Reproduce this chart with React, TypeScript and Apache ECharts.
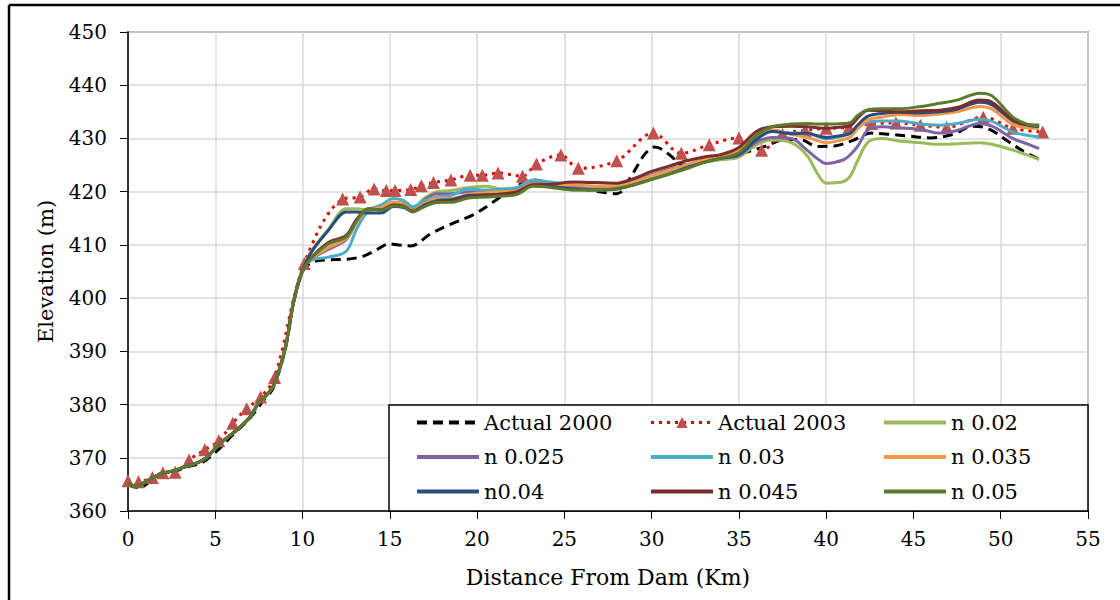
import React, { useEffect, useRef } from "react";
import * as echarts from "echarts";

// Distances (km) shared by the simulated n series
const DIST_N = [0, 0.5, 1, 1.5, 2, 2.5, 3, 3.5, 4, 4.5, 5, 5.5, 6, 6.5, 7, 7.5, 8, 8.4, 9, 9.5, 10,
  10.5, 11.5, 12.5, 13.1, 13.8,
  14.5, 15.2, 15.8, 16.3, 17, 17.7, 18.5, 19.5, 20.5, 21.5,
  22.3, 23.2, 24.2, 25.5, 26.8, 28, 29, 30, 31, 32, 33, 34, 35, 36, 36.9,
  38, 38.9, 39.5, 40, 41, 41.4, 41.8, 42.4, 43.2, 44.2, 45.4, 46.5, 47.5, 48.8, 49.5, 50.7, 51.5, 52.2];

// Common reach 0–10 km (all n series coincide)
const HEAD_N = [365.1, 364.7, 365.5, 366.4, 367.1, 367.5, 368, 368.6, 369.1, 370, 371.8, 373.3, 374.6, 376, 377.7, 380.4, 382, 384, 390.5, 399.5, 405.2];

const N002 = [408.8, 413, 416.8, 416.8, 416.5,
  417, 418, 417.8, 417, 418.8, 420, 420.2, 420.8, 421, 420.5,
  420.5, 421.8, 421, 420.3, 420.3, 420.5, 421.5, 422.5, 423.5, 424.5, 425.5, 426, 426.5, 428.8, 429.7,
  429.2, 426.8, 423.4, 421.6, 421.9, 423, 425.8, 429.3, 430, 429.5, 429.2, 428.9, 429, 429.2, 428.9, 427.8, 426.9, 426];
const N0025 = [407.3, 409.2, 411, 414.3, 416.8,
  416.8, 417.8, 417.5, 416.6, 418.5, 419.6, 419.6, 420, 420, 420.3,
  420.5, 421.8, 421.3, 420.8, 420.8, 421, 422, 423.2, 424.2, 425, 425.8, 426.3, 426.8, 429.3, 430.2,
  430, 427.8, 426.2, 425.3, 426, 427, 428.5, 431.6, 432.2, 432, 431.7, 431, 431.5, 432.8, 432.3, 430, 429, 428.1];
const N003 = [407.1, 407.7, 408.8, 413, 416.5,
  417.5, 418.7, 418.3, 417.2, 418.3, 419, 419.3, 420.5, 420.3, 420.5,
  420.8, 422.2, 421.8, 421.3, 421, 421, 421.8, 423, 424, 425, 426, 426.6, 427.3, 430, 431.5,
  431, 431, 430.4, 429.9, 430.5, 431, 432, 433.1, 433.3, 433.3, 432.7, 432.5, 432.8, 433.6, 433.2, 431.2, 430.6, 430.3];
const N0035 = [407.4, 409.5, 411.2, 414.3, 416.7,
  417, 418, 417.6, 416.5, 417.8, 418.7, 418.7, 419.5, 419.8, 420,
  420.2, 421.5, 421.3, 421.3, 421, 421, 421.8, 423, 424, 425, 426, 426.8, 427.8, 430.5, 431.6,
  430.8, 430.2, 429.6, 429.2, 429.8, 430.3, 431.8, 433.5, 434, 434.5, 434.3, 434.6, 435, 436, 435.5, 432.6, 432, 431.9];
const N004 = [408.6, 412.8, 416.2, 416.2, 416,
  416, 417.2, 417, 416.3, 417.5, 418.3, 418.5, 419.3, 419.4, 419.5,
  419.8, 421.2, 421, 420.5, 420.3, 420.5, 421.3, 422.3, 423.3, 424.5, 425.5, 426.3, 427, 429.8, 431.3,
  430.9, 431, 430.5, 430.2, 430.6, 431, 432.5, 434.2, 434.7, 434.9, 434.8, 435, 435.5, 436.8, 436.3, 433.3, 432.5, 432.2];
const N0045 = [407.6, 410.5, 411.8, 414.8, 416.8,
  416.6, 417.5, 417.3, 416.3, 417.3, 418, 418.2, 419, 419.3, 419.6,
  420, 421.3, 421.4, 421.8, 421.7, 421.6, 422.5, 423.8, 424.8, 425.8, 426.5, 427, 428.3, 431.3, 432.2,
  432.3, 432.2, 432, 431.9, 432.2, 432.4, 433.8, 435.3, 435.2, 435, 435.2, 435.3, 435.8, 437.2, 436.8, 433.5, 432.6, 432.5];
const N005 = [407.5, 410.2, 411.5, 414.5, 416.8,
  416.5, 417.3, 417.2, 416.2, 417.2, 418, 418, 418.8, 419, 419.2,
  419.5, 421, 420.8, 420.3, 420.3, 420.6, 421.3, 422.3, 423.3, 424.3, 425.5, 426.3, 427.3, 430.6, 432.2,
  432.7, 432.8, 432.7, 432.7, 432.8, 433, 434.3, 435.4, 435.6, 435.6, 436, 436.6, 437.2, 438.5, 438, 434, 432.7, 432.4];

// Actual bed profiles
const DIST_2000 = [0, 0.6, 1.5, 2.5, 3.5, 4.2, 5, 6, 7, 7.8, 8.3, 9, 9.5, 10, 10.6, 11.5, 12.5, 13.5, 14.3, 15, 15.5, 16.2, 17.3, 18.5, 19.8, 20.9, 22, 23.3, 24.5, 26, 27, 28, 28.9, 29.6, 30.2, 31, 31.8, 33, 34.5, 35.5, 36.5, 37.5, 38.5, 39.5, 40.5, 41.5, 42.6, 43.5, 44.6, 46, 47.3, 48.4, 49.3, 50.5, 51.3, 52.2];
const ELEV_2000 = [364.9, 364.4, 366, 367.2, 368.4, 369, 371, 374.3, 377.5, 381, 383, 390.3, 399.3, 405, 406.8, 407.2, 407.3, 407.9, 409.2, 410.2, 410, 409.8, 412, 413.9, 415.7, 418, 420.5, 422.2, 421.2, 420.5, 420, 419.6, 423.3, 427, 428.4, 427, 425, 425.8, 426.5, 427.5, 428.5, 429.7, 429.8, 428.5, 428.6, 429.6, 431, 430.8, 430.5, 430.1, 430.8, 432.3, 431.8, 429.3, 427.6, 426.1];
const DIST_2003 = [0, 0.6, 1.4, 2, 2.7, 3.5, 4.4, 5.2, 6, 6.8, 7.6, 8.4, 10.1, 12.3, 13.3, 14.1, 14.8, 15.3, 16.2, 16.8, 17.5, 18.5, 19.6, 20.3, 21.2, 22.6, 23.4, 24.8, 25.8, 28, 30.1, 31.7, 33.3, 35, 36.3, 37.5, 38.8, 40, 41.3, 42.6, 44, 45.4, 46.9, 49, 50.7, 52.4];
const ELEV_2003 = [365.7, 365.5, 366.3, 367.2, 367.3, 369.6, 371.5, 373.2, 376.5, 379.2, 381.4, 385.1, 406.5, 418.6, 419, 420.5, 420.2, 420.2, 420.4, 421.1, 421.7, 422.2, 423.1, 423.1, 423.5, 422.9, 425.2, 426.9, 424.4, 425.8, 431, 427.2, 428.8, 430.1, 427.8, 430.8, 431.5, 431.9, 432.1, 432.8, 432.9, 432.5, 432.1, 434, 431.9, 431.2];

const X_TICKS = { min: 0, max: 55, interval: 5 };
const Y_TICKS = { min: 360, max: 450, interval: 10 };

const LEGEND_COLS = [
  ["Actual 2000", "n 0.025", "n0.04"],
  ["Actual 2003", "n 0.03", "n 0.045"],
  ["n 0.02", "n 0.035", "n 0.05"],
];

const FONT = "DejaVu Serif";

function pairs(xs: number[], ys: number[]) {
  return xs.map((x, i) => [x, ys[i]]);
}

export default function App() {
  const ref = useRef<HTMLDivElement>(null);
  useEffect(() => {
    document.body.style.margin = "0";
    if (!ref.current) return;
    const chart = echarts.init(ref.current, null, { renderer: "svg" });

    const nSeries = [
      { name: "n 0.02", color: "#9bbb59", vals: N002 },
      { name: "n 0.025", color: "#8064a2", vals: N0025 },
      { name: "n 0.03", color: "#4bacc6", vals: N003 },
      { name: "n 0.035", color: "#f79646", vals: N0035 },
      { name: "n0.04", color: "#2b4c7e", vals: N004 },
      { name: "n 0.045", color: "#7b2d2b", vals: N0045 },
      { name: "n 0.05", color: "#5b7a2e", vals: N005 },
    ].map((s) => ({
      name: s.name,
      type: "line",
      smooth: 0.35,
      showSymbol: false,
      symbol: "none",
      data: pairs(DIST_N, [...HEAD_N, ...s.vals]),
      lineStyle: { color: s.color, width: 3 },
      itemStyle: { color: s.color },
      z: 3,
    }));

    const legendCommon = {
      orient: "vertical",
      top: 407,
      itemGap: 13.5,
      itemWidth: 62,
      itemHeight: 14,
      selectedMode: false,
      z: 60,
      textStyle: { fontFamily: FONT, fontSize: 21, color: "#000" },
    };
    const legendData = (names: string[]) =>
      names.map((n) =>
        n === "Actual 2003"
          ? { name: n, lineStyle: { width: 3 } }
          : { name: n, itemStyle: { opacity: 0 }, lineStyle: { width: 4 } }
      );

    chart.setOption({
      animation: false,
      backgroundColor: "#fff",
      grid: { left: 128, right: 32, top: 32, bottom: 89, show: true, borderColor: "#595959", borderWidth: 1.5, backgroundColor: "transparent" },
      xAxis: {
        type: "value",
        ...X_TICKS,
        name: "Distance From Dam (Km)",
        nameLocation: "middle",
        nameGap: 55,
        nameTextStyle: { fontFamily: FONT, fontSize: 22, color: "#000" },
        axisLine: { show: true, onZero: false, lineStyle: { color: "#000", width: 1.5 } },
        axisTick: { show: true, length: 8, lineStyle: { color: "#000", width: 1 } },
        axisLabel: { fontFamily: FONT, fontSize: 20, color: "#000", margin: 18 },
        splitLine: { show: true, lineStyle: { color: "#d9d9d9", width: 1.5 } },
      },
      yAxis: {
        type: "value",
        ...Y_TICKS,
        name: "Elevation (m)",
        nameLocation: "middle",
        nameGap: 72,
        nameRotate: 90,
        nameTextStyle: { fontFamily: FONT, fontSize: 21, color: "#000" },
        axisLine: { show: true, lineStyle: { color: "#000", width: 1.5 } },
        axisTick: { show: true, length: 8, lineStyle: { color: "#000", width: 1 } },
        axisLabel: { fontFamily: FONT, fontSize: 20, color: "#000", margin: 21 },
        splitLine: { show: true, lineStyle: { color: "#d9d9d9", width: 1.5 } },
      },
      legend: [
        { ...legendCommon, left: 410, data: legendData(LEGEND_COLS[0]) },
        { ...legendCommon, left: 644, data: legendData(LEGEND_COLS[1]) },
        { ...legendCommon, left: 877, data: legendData(LEGEND_COLS[2]) },
      ],
      graphic: [
        { type: "rect", z: 50, shape: { x: 389, y: 405, width: 699, height: 106 }, style: { fill: "#fff", stroke: "#000", lineWidth: 1.5 } },
        { type: "line", z: 50, shape: { x1: 9, y1: 5, x2: 1120, y2: 5 }, style: { stroke: "#000", lineWidth: 2.5 } },
        { type: "line", z: 50, shape: { x1: 9, y1: 5, x2: 9, y2: 600 }, style: { stroke: "#000", lineWidth: 2.5 } },
      ],
      series: [
        {
          name: "Actual 2000",
          type: "line",
          smooth: 0.35,
          showSymbol: false,
          symbol: "none",
          data: pairs(DIST_2000, ELEV_2000),
          lineStyle: { color: "#000", width: 3, type: [10, 6] },
          itemStyle: { color: "#000" },
          z: 2,
        },
        {
          name: "Actual 2003",
          type: "line",
          smooth: 0.35,
          symbol: "triangle",
          symbolSize: 13,
          showSymbol: true,
          data: pairs(DIST_2003, ELEV_2003),
          lineStyle: { color: "#e00000", width: 3, type: [3, 5] },
          itemStyle: { color: "#c0504d" },
          z: 2,
        },
        ...nSeries,
      ],
    });
    return () => chart.dispose();
  }, []);
  return <div ref={ref} style={{ width: 1120, height: 600 }} />;
}
